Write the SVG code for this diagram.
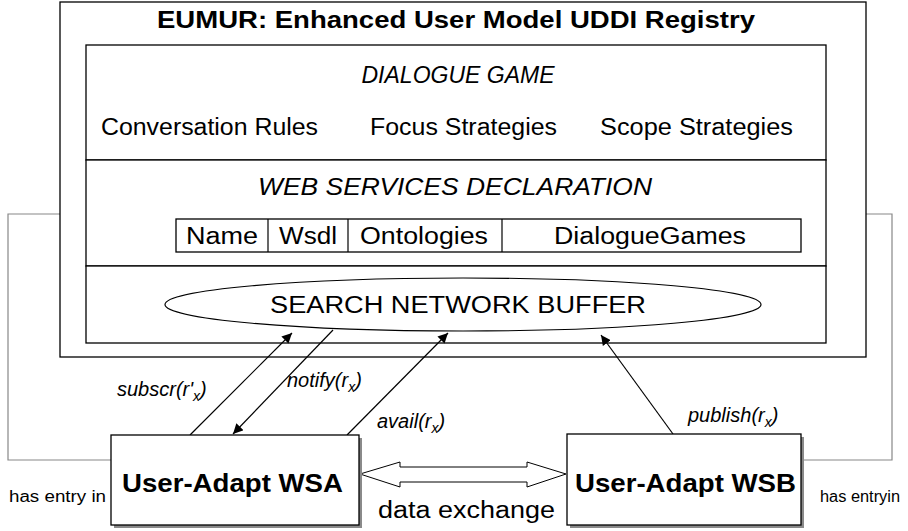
<svg xmlns="http://www.w3.org/2000/svg" width="908" height="531" viewBox="0 0 908 531">
<style>
text{font-family:"Liberation Sans",Arial,sans-serif;fill:#000}
.box{fill:#fff;stroke:#000;stroke-width:1.3}
.shadow{fill:#8a8a8a}
.loop{fill:none;stroke:#888;stroke-width:1.2}
.conn{stroke:#000;stroke-width:1.2;fill:none}
.it{font-style:italic}
.body{font-size:23px}
.lbl{font-size:20px;font-style:italic}
</style>
<defs>
<marker id="ah" viewBox="0 0 10 10" refX="10" refY="5" markerWidth="10" markerHeight="10" markerUnits="userSpaceOnUse" orient="auto">
<path d="M0,0 L10,5 L0,10 z" fill="#000"/>
</marker>
</defs>
<rect width="908" height="531" fill="#fff"/>
<g id="loops">
<polyline class="loop" points="86,214 8,214 8,460 111,460"/>
<polyline class="loop" points="826,214 892,214 892,460 801,460"/>
</g>
<g id="registry">
<rect class="box" x="60" y="2" width="806" height="355"/>
<text x="456" y="28" font-size="24" font-weight="bold" text-anchor="middle" textLength="598" lengthAdjust="spacingAndGlyphs">EUMUR: Enhanced User Model UDDI Registry</text>
</g>
<g id="dialogue-game">
<rect class="box" x="86" y="45" width="740" height="115"/>
<text class="it body" x="458" y="83" text-anchor="middle" textLength="193" lengthAdjust="spacingAndGlyphs">DIALOGUE GAME</text>
<text class="body" x="101" y="135" textLength="217" lengthAdjust="spacingAndGlyphs">Conversation Rules</text>
<text class="body" x="370" y="135" textLength="187" lengthAdjust="spacingAndGlyphs">Focus Strategies</text>
<text class="body" x="600" y="135" textLength="193" lengthAdjust="spacingAndGlyphs">Scope Strategies</text>
</g>
<g id="web-services">
<rect class="box" x="86" y="160" width="740" height="106"/>
<text class="it body" x="455" y="195" text-anchor="middle" textLength="394" lengthAdjust="spacingAndGlyphs">WEB SERVICES DECLARATION</text>
<rect class="box" x="176" y="219" width="625" height="33"/>
<line class="conn" x1="268" y1="219" x2="268" y2="252"/>
<line class="conn" x1="348" y1="219" x2="348" y2="252"/>
<line class="conn" x1="502" y1="219" x2="502" y2="252"/>
<text class="body" x="222" y="244" text-anchor="middle" textLength="72" lengthAdjust="spacingAndGlyphs">Name</text>
<text class="body" x="308" y="244" text-anchor="middle" textLength="58" lengthAdjust="spacingAndGlyphs">Wsdl</text>
<text class="body" x="424" y="244" text-anchor="middle" textLength="128" lengthAdjust="spacingAndGlyphs">Ontologies</text>
<text class="body" x="650" y="244" text-anchor="middle" textLength="192" lengthAdjust="spacingAndGlyphs">DialogueGames</text>
</g>
<g id="search-network">
<rect class="box" x="86" y="266" width="740" height="77"/>
<ellipse cx="463" cy="304.5" rx="298" ry="26.5" fill="#fff" stroke="#000" stroke-width="1.2"/>
<text class="body" x="458" y="313" text-anchor="middle" textLength="376" lengthAdjust="spacingAndGlyphs">SEARCH NETWORK BUFFER</text>
</g>
<g id="connectors">
<line class="conn" x1="190" y1="435" x2="292" y2="333" marker-end="url(#ah)"/>
<line class="conn" x1="333" y1="330" x2="233" y2="434" marker-end="url(#ah)"/>
<line class="conn" x1="347" y1="435" x2="448" y2="333" marker-end="url(#ah)"/>
<line class="conn" x1="673" y1="434" x2="601" y2="335" marker-end="url(#ah)"/>
<path d="M360,474 L400,462 L400,467 L527,467 L527,462 L566,474 L527,487 L527,482 L400,482 L400,487 Z" fill="#fff" stroke="#000" stroke-width="1"/>
</g>
<g id="labels">
<text class="lbl" x="117" y="396">subscr(r'<tspan dy="5" font-size="14">x</tspan><tspan dy="-5">)</tspan></text>
<text class="lbl" x="287" y="387">notify(r<tspan dy="5" font-size="14">x</tspan><tspan dy="-5">)</tspan></text>
<text class="lbl" x="377" y="428">avail(r<tspan dy="5" font-size="14">x</tspan><tspan dy="-5">)</tspan></text>
<text class="lbl" x="688" y="422">publish(r<tspan dy="5" font-size="14">x</tspan><tspan dy="-5">)</tspan></text>
<text class="body" x="378" y="518" textLength="177" lengthAdjust="spacingAndGlyphs">data exchange</text>
<text x="9" y="502" font-size="16" textLength="97" lengthAdjust="spacingAndGlyphs">has entry in</text>
<text x="820" y="502" font-size="16" textLength="80" lengthAdjust="spacingAndGlyphs">has entryin</text>
</g>
<g id="wsa">
<rect class="shadow" x="114" y="438" width="248" height="90"/>
<rect class="box" x="111" y="435" width="248" height="90"/>
<text x="122" y="492" font-size="26" font-weight="bold" textLength="221" lengthAdjust="spacingAndGlyphs">User-Adapt WSA</text>
</g>
<g id="wsb">
<rect class="shadow" x="570" y="437" width="234" height="91"/>
<rect class="box" x="567" y="434" width="234" height="91"/>
<text x="575" y="492" font-size="26" font-weight="bold" textLength="221" lengthAdjust="spacingAndGlyphs">User-Adapt WSB</text>
</g>
</svg>
